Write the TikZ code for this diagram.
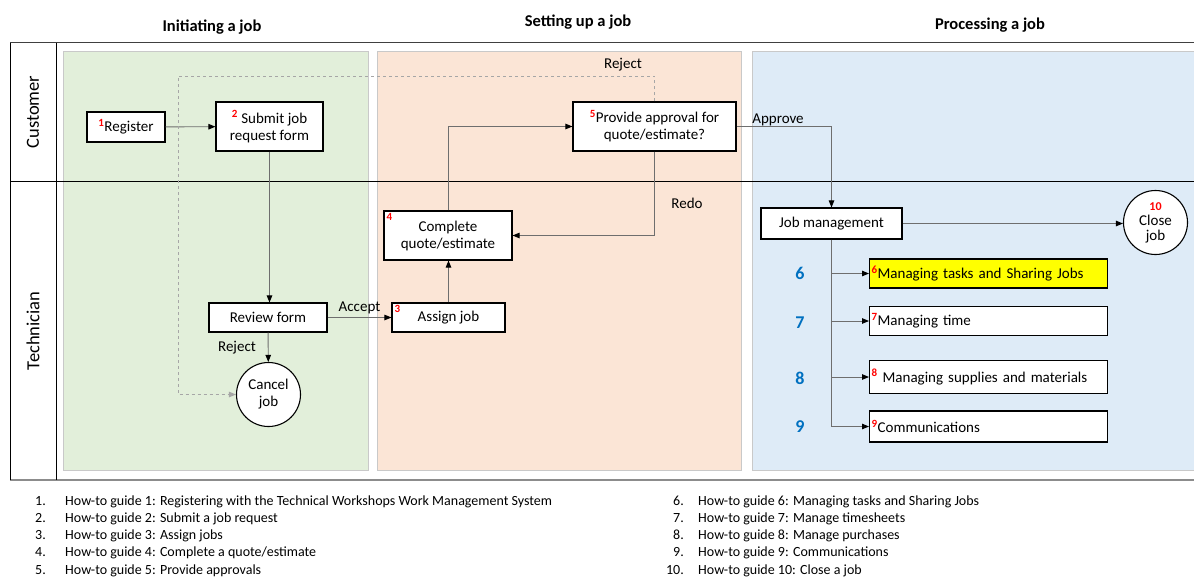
\documentclass[tikz,border=0pt]{standalone}
\usepackage{fontspec}
\setmainfont{Carlito}
\usetikzlibrary{arrows.meta,calc,positioning}

\definecolor{laneGreen}{HTML}{E2EFDA}
\definecolor{laneOrange}{HTML}{FBE5D6}
\definecolor{laneBlue}{HTML}{DEEBF7}
\definecolor{laneEdge}{HTML}{C9C9C9}
\definecolor{lineGray}{HTML}{6E6E6E}
\definecolor{numBlue}{HTML}{0070C0}
\definecolor{hiYellow}{HTML}{FFFF00}

\newcommand{\nr}[1]{\textsuperscript{\textcolor{red}{\bfseries\fontsize{11}{11}\selectfont #1}}}

\begin{document}
\begin{tikzpicture}[x=1pt,y=-1pt,
  txt/.style={font=\fontsize{15}{17}\selectfont},
  box/.style={txt,draw,fill=white,line width=1.1pt,inner sep=1pt,align=center},
  endpt/.style={txt,draw,circle,fill=white,line width=1.1pt,minimum size=64pt,inner sep=0pt,align=center},
  task/.style={box,anchor=west,text width=234pt,align=left,minimum height=29pt,inner sep=2pt},
  numlbl/.style={anchor=north west,inner sep=3pt,text=red,font=\bfseries\fontsize{11}{11}\selectfont},
  flow/.style={draw=lineGray,line width=0.9pt,-{Triangle[length=7pt,width=5.5pt,black]}},
  dashflow/.style={draw=gray!70,line width=0.9pt,dashed,-{Triangle[length=7pt,width=5.5pt]}},
  region/.style={draw=laneEdge,line width=0.8pt},
  head/.style={font=\bfseries\fontsize{16.5}{18}\selectfont},
  lane/.style={font=\fontsize{18.5}{20}\selectfont,rotate=90},
  note/.style={font=\fontsize{14}{16}\selectfont,anchor=base west,inner sep=0pt},
  bignum/.style={font=\bfseries\fontsize{18}{18}\selectfont,text=numBlue}]

\useasboundingbox (0,0) rectangle (1194,576);

% ---------- Phasen (Hintergrundflaechen) ----------
\fill[laneGreen,region] (63,51) rectangle (368,470);
\fill[laneOrange,region] (377,51) rectangle (741,470);
\fill[laneBlue,region] (752,51) rectangle (1200,470);

% ---------- Rahmen und Bahnen ----------
\draw[line width=1.6pt,black!75] (10,42.5) -- (1194,42.5);
\draw[line width=1.6pt,black!45] (10,480) -- (1194,480);
\draw[line width=1pt] (10,42.5) -- (10,480);
\draw[line width=1pt] (56,42.5) -- (56,480);
\draw[line width=1pt] (10,181) -- (1194,181);

\node[lane] (laneCust) at (33,112) {Customer};
\node[lane] (laneTech) at (33,331) {Technician};

\node[head] (hInit) at (212,27) {Initiating a job};
\node[head] (hSetup) at (578,22) {Setting up a job};
\node[head] (hProc) at (990,25) {Processing a job};

% ---------- Schritte ----------
\node[box,minimum width=78pt,minimum height=30pt] (reg) at (126,127) {\nr{1}Register};
\node[box,minimum width=107pt,minimum height=49pt] (sub) at (269.5,126.5) {\nr{2} Submit job\\request form};
\node[box,minimum width=163pt,minimum height=49pt] (appr) at (654.5,126.5) {\nr{5}Provide approval for\\quote/estimate?};
\node[box,minimum width=128pt,minimum height=49pt,label={[numlbl]north west:4}] (quote) at (448,235.5) {Complete\\quote/estimate};
\node[box,minimum width=118pt,minimum height=29pt] (rev) at (268,317.5) {Review form};
\node[box,minimum width=113pt,minimum height=29pt,label={[numlbl]north west:3}] (assign) at (448.5,317.5) {Assign job};
\node[endpt] (cancel) at (268.5,394.5) {Cancel\\job};
\node[box,minimum width=141pt,minimum height=31pt] (jobm) at (831.5,223.5) {Job management};
\node[endpt,font=\fontsize{15}{15}\selectfont] (close) at (1155.5,222.5) {\textcolor{red}{\bfseries\fontsize{12}{12}\selectfont 10}\\Close\\job};

\node[task,fill=hiYellow] (t6) at (869,273.5) {\nr{6}Managing tasks and Sharing Jobs};
\node[task] (t7) at (869,321) {\nr{7}Managing time};
\node[task,minimum height=33pt] (t8) at (869,377) {\nr{8} Managing supplies and materials};
\node[task,minimum height=31pt] (t9) at (869,426.5) {\nr{9}Communications};

\foreach \k/\yy in {6/273,7/323,8/378,9/427}
  \node[bignum] (big\k) at (800,\yy) {\k};

% ---------- Verbindungen ----------
\draw[flow] (reg) -- (sub);
\draw[flow] (sub.south) -- (sub.south |- rev.north);
\draw[flow] (rev) -- node[txt,above,pos=0.5] (lAccept) {Accept} (assign);
\draw[flow] (rev) -- (cancel);
\node[txt] (lRejectLow) at (237,348) {Reject};
\draw[flow] (assign.north) -- (assign.north |- quote.south);
\draw[flow] (quote.north) |- (appr.west);
\draw[flow] (appr.south) |- (quote.east);
\node[txt] (lRedo) at (687,203) {Redo};
\draw[flow] (appr.east) -| (jobm.north);
\node[txt] (lApprove) at (778,120) {Approve};

% Ablehnung (gestrichelt)
\coordinate (rejTop) at (178,76);
\draw[dashflow] (appr.north) |- (rejTop) |- (cancel.west);
\node[txt] (lRejectTop) at (623,65) {Reject};

% Jobverwaltung
\draw[flow] (jobm.east) -- (jobm.east -| close.west);
\draw[draw=lineGray,line width=0.9pt] (jobm.south) -- (jobm.south |- t9.west);
\foreach \t in {t6,t7,t8,t9}
  \draw[flow] (jobm.south |- \t.west) -- (\t.west);

% ---------- Legende ----------
\foreach \txt [count=\i] in {Registering with the Technical Workshops Work Management System,
    Submit a job request, Assign jobs, Complete a quote/estimate, Provide approvals}
{
  \node[note,anchor=base east] (ln\i) at (46,{505+17.3*(\i-1)}) {\i.};
  \node[note] (lt\i) at (65,{505+17.3*(\i-1)}) {How-to guide \i: \txt};
}
\foreach \txt [count=\j from 6] in {Managing tasks and Sharing Jobs, Manage timesheets,
    Manage purchases, Communications, Close a job}
{
  \node[note,anchor=base east] (rn\j) at (684,{505+17.3*(\j-6)}) {\j.};
  \node[note] (rt\j) at (698,{505+17.3*(\j-6)}) {How-to guide \j: \txt};
}

\end{tikzpicture}
\end{document}
